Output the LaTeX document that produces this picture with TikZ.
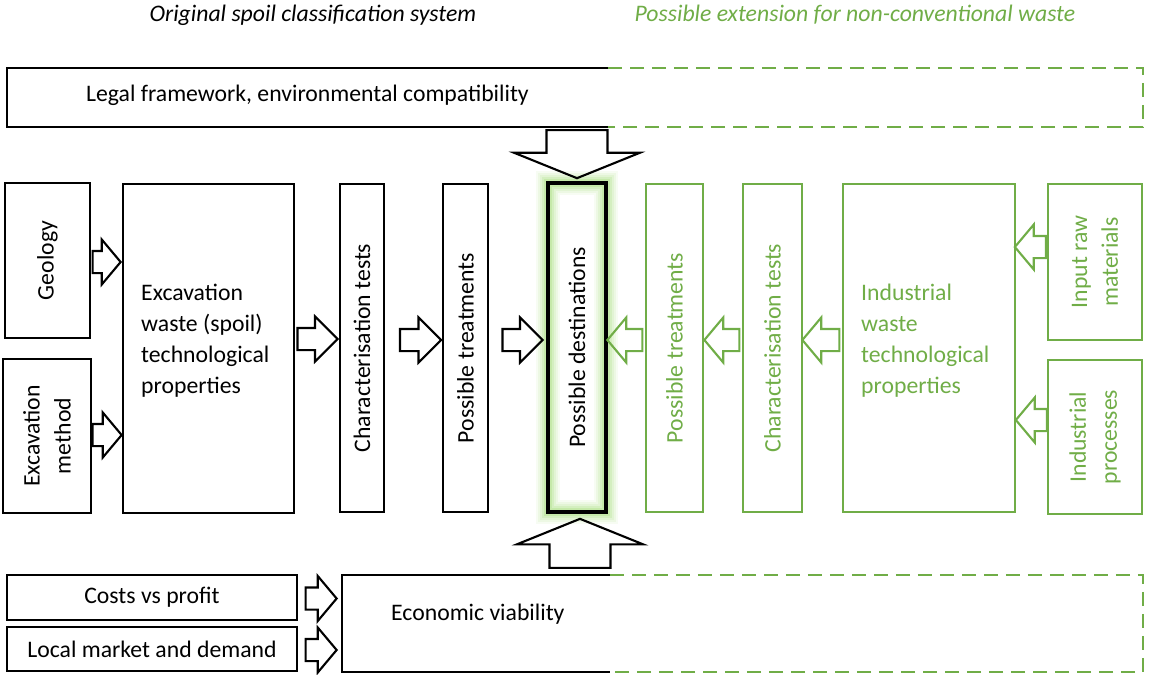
\documentclass[tikz,border=0pt]{standalone}
\usepackage{fontspec}
\setmainfont{Carlito}
\usetikzlibrary{shapes.arrows}
\definecolor{extgreen}{RGB}{112,173,71}
\definecolor{glowgreen}{RGB}{150,215,100}

\begin{document}
\begin{tikzpicture}[x=0.02cm,y=-0.02cm,
  every node/.style={font=\fontsize{13.5}{17.6}\selectfont},
  box/.style={draw, line width=1.4pt, inner sep=0pt, align=center},
  gbox/.style={box, draw=extgreen, text=extgreen, line width=1.2pt},
  barrow/.style={single arrow, draw, line width=1.2pt, inner xsep=0pt, inner ysep=0.2cm, single arrow head extend=0.23cm, single arrow tip angle=100},
  garrow/.style={barrow, draw=extgreen, shape border rotate=180},
  bigarrow/.style={barrow, inner ysep=0pt, inner xsep=0.59cm, single arrow head extend=0.65cm, single arrow tip angle=136},
  dashgreen/.style={extgreen, line width=1.2pt, dash pattern=on 0.28cm off 0.16cm}]
\useasboundingbox (0,0) rectangle (1150,674);

% titles
\node[font=\fontsize{13.5}{16}\selectfont\itshape] (ttl1) at (313,15) {Original spoil classification system};
\node[font=\fontsize{13.5}{16}\selectfont\itshape, text=extgreen] (ttl2) at (855,15) {Possible extension for non-conventional waste};

% legal framework
\draw[line width=1.4pt] (608,68) -- (7,68) -- (7,127) -- (608,127);
\draw[dashgreen] (608,68) -- (1143,68) -- (1143,127) -- (608,127);
\node[anchor=west] (legal) at (80,95) {Legal framework, environmental compatibility};

% left side
\node[box, rotate=90, minimum width=3.1cm, minimum height=1.7cm] (geo) at (47.5,260.5) {Geology};
\node[box, rotate=90, minimum width=3.08cm, minimum height=1.76cm] (meth) at (47,436) {Excavation\\method};
\node[box, minimum width=3.42cm, minimum height=6.58cm] (exc) at (208.5,348.5) {};
\node[align=left, anchor=west] (exctxt) at (135,341) {Excavation\\waste (spoil)\\technological\\properties};
\node[box, rotate=90, minimum width=6.56cm, minimum height=0.88cm] (char) at (362,348) {Characterisation tests};
\node[box, rotate=90, minimum width=6.56cm, minimum height=0.9cm] (treat) at (465.5,348) {Possible treatments};

% destinations with glow
\foreach \w/\o in {24/0.08,20/0.1,16/0.13,12/0.18,8/0.25,4/0.35}
  \draw[glowgreen, line width=\w*0.569pt, opacity=\o] (548,183) rectangle (606,512);
\node[box, rotate=90, line width=2pt, minimum width=6.58cm, minimum height=1.16cm] (dest) at (577,347.5) {Possible destinations};

% right side
\node[gbox, rotate=90, minimum width=6.56cm, minimum height=1.14cm] (gtreat) at (674.5,348) {Possible treatments};
\node[gbox, rotate=90, minimum width=6.56cm, minimum height=1.18cm] (gchar) at (772.5,348) {Characterisation tests};
\node[gbox, minimum width=3.44cm, minimum height=6.56cm] (ind) at (929,348) {};
\node[align=left, anchor=west, text=extgreen] (indtxt) at (855,341) {Industrial\\waste\\technological\\properties};
\node[gbox, rotate=90, minimum width=3.12cm, minimum height=1.88cm] (raw) at (1095,262) {Input raw\\materials};
\node[gbox, rotate=90, minimum width=3.08cm, minimum height=1.88cm] (proc) at (1095,437) {Industrial\\processes};

% bottom
\node[box, minimum width=5.8cm, minimum height=0.9cm] (cost) at (152,597.5) {Costs vs profit};
\node[box, minimum width=5.8cm, minimum height=0.88cm] (mkt) at (152,649) {Local market and demand};
\draw[line width=1.4pt] (610,575) -- (342,575) -- (342,672) -- (610,672);
\draw[dashgreen] (610,575) -- (1143,575) -- (1143,672) -- (610,672);
\node[anchor=west] (econ) at (385,614) {Economic viability};

% block arrows
\node[barrow, minimum height=0.56cm] (a1) at (102,262) {};
\node[barrow, minimum height=0.58cm] (a2) at (102.5,435) {};
\node[barrow, minimum height=0.8cm, single arrow tip angle=90] (a3) at (312,339) {};
\node[barrow, minimum height=0.82cm, single arrow tip angle=90] (a4) at (415,340) {};
\node[barrow, minimum height=0.8cm, single arrow tip angle=90] (a5) at (517,340) {};
\node[garrow, minimum height=0.7cm] (g1) at (629.5,340) {};
\node[garrow, minimum height=0.7cm] (g2) at (726.5,340) {};
\node[garrow, minimum height=0.74cm] (g3) at (825.5,340) {};
\node[garrow, minimum height=0.62cm] (g4) at (1035,247) {};
\node[garrow, minimum height=0.62cm] (g5) at (1036,420) {};
\node[barrow, minimum height=0.62cm] (c1) at (316.5,598.5) {};
\node[barrow, minimum height=0.62cm] (c2) at (316.5,650) {};
\node[bigarrow, minimum height=0.96cm, shape border rotate=270] (down) at (577,148) {};
\node[bigarrow, minimum height=0.98cm, shape border rotate=90] (up) at (580,549.5) {};
\end{tikzpicture}
\end{document}
